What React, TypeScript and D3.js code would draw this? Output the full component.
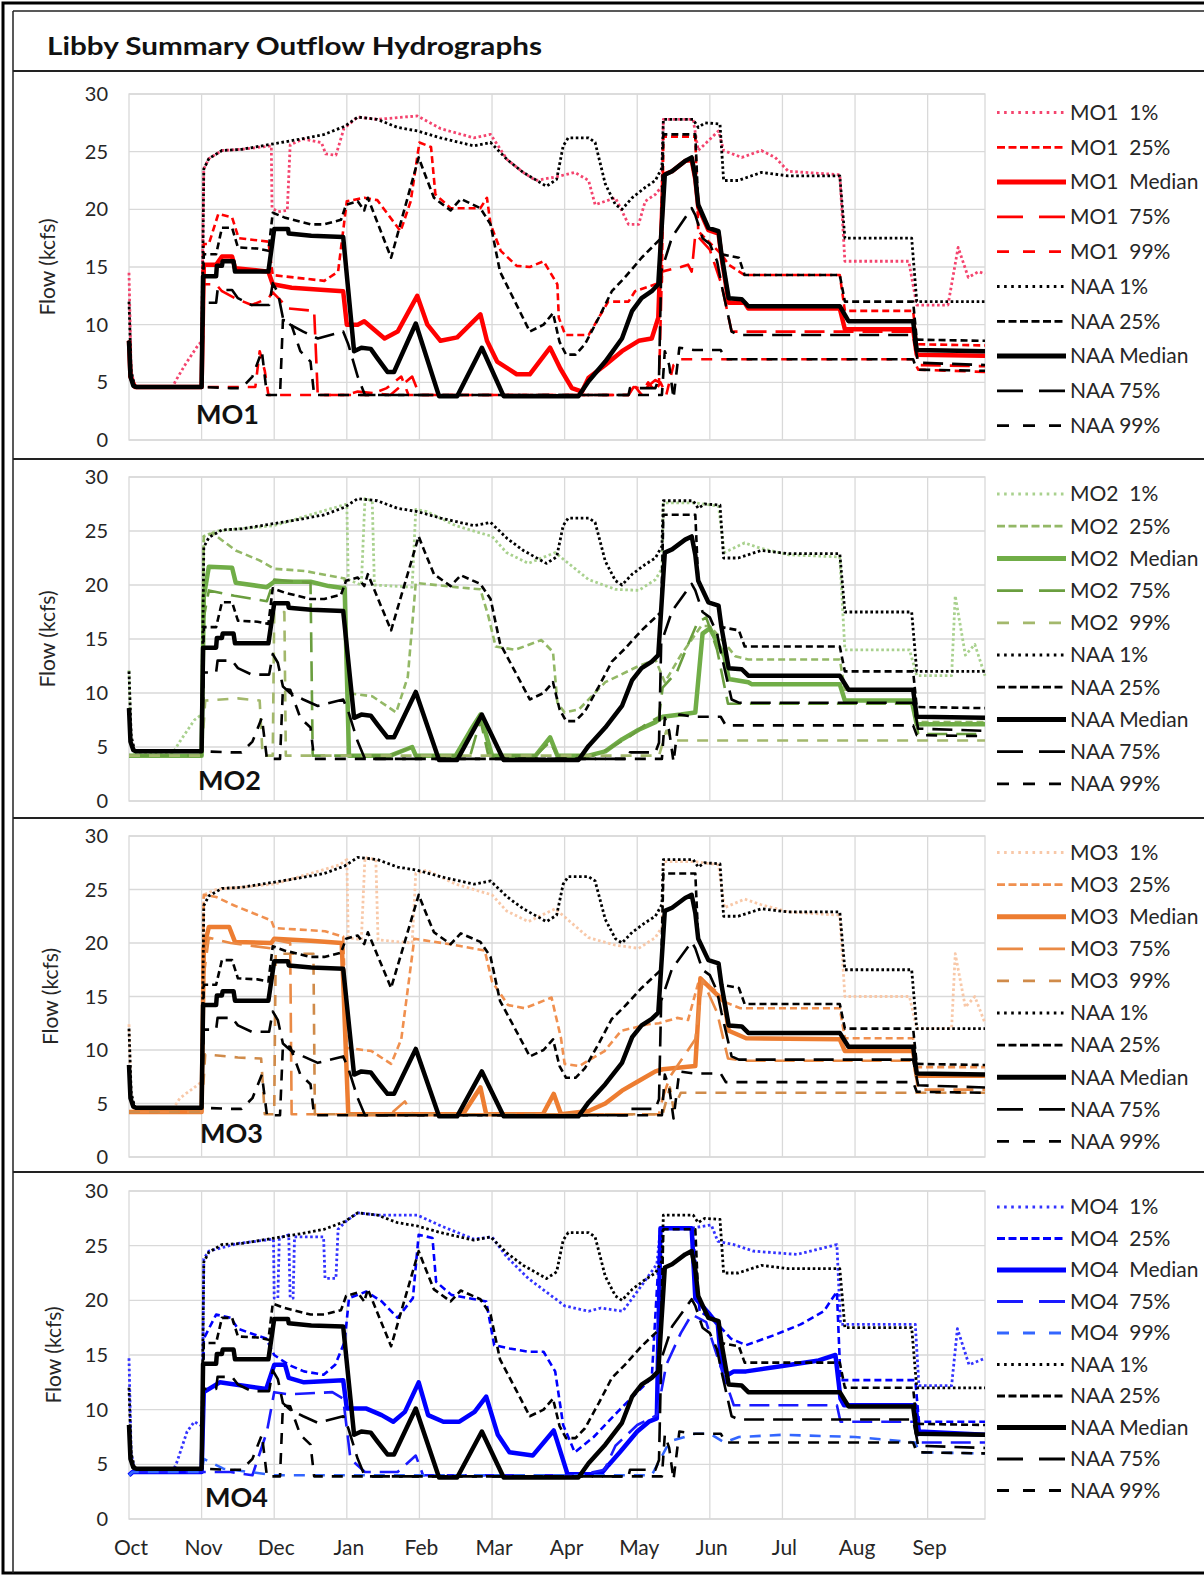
import React from 'react';
import * as d3 from 'd3';

type Pt = [number, number];

// ---------- axis / label data ----------
const MONTHS = ['Oct', 'Nov', 'Dec', 'Jan', 'Feb', 'Mar', 'Apr', 'May', 'Jun', 'Jul', 'Aug', 'Sep'];
const Y_TICKS = [0, 5, 10, 15, 20, 25, 30];
const PCT_KEYS = ['p1', 'p25', 'med', 'p75', 'p99'];
const PCT_LABELS = ['1%', '25%', 'Median', '75%', '99%'];
const ALT_NAMES = ['MO1', 'MO2', 'MO3', 'MO4'];
const TITLE = 'Libby Summary Outflow Hydrographs';

// ---------- No Action Alternative (same in every panel); x = months after Oct 1, y = kcfs ----------
const NAA_1: Pt[] = [[0,12],[0.03,6],[0.08,4.6],[1.0,4.6],[1.03,23.5],[1.1,24.4],[1.28,25.1],[1.55,25.2],[2.01,25.7],[2.37,26.1],[2.69,26.5],[2.97,27.2],[3.15,28.0],[3.42,27.8],[3.7,27.1],[3.97,26.8],[4.29,26.2],[4.75,25.5],[4.98,25.8],[5.21,24.3],[5.43,23.2],[5.75,22.0],[5.89,22.6],[5.98,25.5],[6.05,26.2],[6.33,26.2],[6.42,25.8],[6.56,22.2],[6.7,20.4],[6.79,20.0],[6.93,21.0],[7.11,21.9],[7.25,22.5],[7.34,23.6],[7.36,27.8],[7.77,27.8],[7.84,27.1],[7.93,27.5],[8.14,27.4],[8.19,22.5],[8.39,22.5],[8.71,23.2],[9.08,22.9],[9.79,22.9],[9.86,17.5],[10.78,17.5],[10.85,12.0],[11.79,12.0]];
const NAA_25: Pt[] = [[0,8.6],[0.02,5.5],[0.08,4.6],[1.0,4.6],[1.03,16.1],[1.2,16.1],[1.28,18.4],[1.42,18.4],[1.5,16.7],[1.77,16.6],[1.92,16.4],[1.98,19.7],[2.14,19.3],[2.5,18.7],[2.69,18.7],[2.92,19.1],[2.99,20.4],[3.15,20.7],[3.24,19.9],[3.29,21.0],[3.61,15.8],[3.99,24.5],[4.06,23.3],[4.2,21.0],[4.43,19.9],[4.57,20.9],[4.84,20.1],[4.98,18.7],[5.11,14.6],[5.34,11.7],[5.52,9.4],[5.71,10.0],[5.84,11.0],[5.93,8.5],[6.02,7.4],[6.15,7.4],[6.28,8.3],[6.47,10.6],[6.65,12.9],[6.83,14.1],[7.06,15.8],[7.25,17.0],[7.33,17.5],[7.36,26.5],[7.8,26.5],[7.84,20.4],[7.98,18.4],[8.12,18.1],[8.16,16.1],[8.4,15.8],[8.48,14.3],[9.79,14.3],[9.86,12.0],[10.8,12.0],[10.85,8.7],[11.79,8.6]];
const NAA_MED: Pt[] = [[0,8.6],[0.02,5.5],[0.06,4.7],[0.1,4.6],[1.0,4.6],[1.02,14.2],[1.2,14.2],[1.21,15.1],[1.28,15.1],[1.29,15.5],[1.44,15.5],[1.46,14.6],[1.92,14.6],[2.0,18.3],[2.19,18.3],[2.2,17.9],[2.51,17.7],[2.95,17.6],[3.1,7.7],[3.2,8.0],[3.33,7.9],[3.42,7.1],[3.56,5.9],[3.65,5.9],[3.95,10.1],[4.27,3.8],[4.52,3.8],[4.86,8.0],[5.16,3.8],[6.19,3.8],[6.33,5.1],[6.56,6.8],[6.79,8.8],[6.93,11.2],[7.06,12.3],[7.2,12.9],[7.29,13.5],[7.38,23.0],[7.48,23.3],[7.66,24.2],[7.75,24.5],[7.8,22.8],[7.84,20.4],[7.98,18.4],[8.12,18.1],[8.16,16.1],[8.26,12.3],[8.44,12.2],[8.53,11.6],[9.79,11.6],[9.91,10.3],[10.8,10.3],[10.85,7.8],[11.79,7.7]];
const NAA_75: Pt[] = [[0,8.6],[0.02,5.5],[0.08,4.6],[1.0,4.6],[1.03,11.9],[1.2,11.9],[1.22,13.0],[1.42,13.0],[1.5,12.3],[1.69,11.7],[1.93,11.7],[1.98,13.6],[2.05,12.8],[2.12,10.6],[2.22,10.0],[2.4,9.4],[2.6,8.8],[2.95,9.4],[3.02,8.3],[3.15,5.5],[3.25,3.9],[6.88,3.9],[6.9,4.5],[7.25,4.5],[7.3,5.4],[7.33,14.6],[7.48,17.6],[7.75,20.1],[7.8,19.5],[7.9,17.5],[8.0,17.0],[8.1,15.5],[8.16,13.5],[8.3,9.4],[8.4,9.1],[10.8,9.1],[10.87,6.7],[11.79,6.5]];
const NAA_99: Pt[] = [[0,8.6],[0.02,5.5],[0.08,4.6],[1.0,4.6],[1.4,4.5],[1.55,4.5],[1.7,5.5],[1.83,7.7],[1.9,3.9],[2.08,3.9],[2.12,10.4],[2.22,10.3],[2.36,7.7],[2.5,6.8],[2.55,3.9],[7.34,3.9],[7.38,7.7],[7.44,6.5],[7.5,3.6],[7.58,8.0],[7.78,7.8],[8.15,7.8],[8.22,7.0],[10.8,7.0],[10.85,6.1],[11.79,6.0]];

// ---------- MO1 ----------
const MO1_1: Pt[] = [[0,14.5],[0.03,6],[0.08,4.6],[0.6,4.6],[0.64,5.1],[0.78,6.6],[0.96,8.3],[1.0,8.5],[1.03,23.5],[1.1,24.4],[1.28,25.1],[1.55,25.2],[1.96,25.5],[1.97,20.1],[2.05,19.8],[2.18,19.9],[2.22,25.6],[2.4,26.1],[2.65,25.8],[2.71,24.8],[2.85,24.7],[2.96,27.0],[3.15,28.0],[3.42,27.8],[3.97,28.1],[4.29,27.0],[4.75,26.2],[4.98,26.5],[5.21,24.3],[5.43,23.2],[5.6,22.5],[5.87,22.8],[6.14,23.2],[6.33,22.5],[6.42,20.4],[6.7,21.0],[6.88,18.7],[7.02,18.7],[7.11,20.7],[7.25,21.3],[7.34,22.0],[7.36,27.8],[7.77,27.8],[7.84,25.1],[8.12,26.8],[8.19,25.1],[8.44,24.5],[8.71,25.1],[8.9,24.5],[9.08,23.3],[9.79,23.0],[9.86,15.5],[10.74,15.5],[10.85,11.7],[11.28,11.7],[11.42,16.7],[11.56,14.1],[11.7,14.6],[11.79,14.4]];
const MO1_25: Pt[] = [[0,8.6],[0.02,5.5],[0.08,4.6],[1.0,4.6],[1.03,17.0],[1.1,17.0],[1.23,19.6],[1.42,19.3],[1.51,17.5],[1.92,17.2],[1.98,14.3],[2.69,13.8],[2.88,14.6],[3.0,20.7],[3.24,21.0],[3.42,20.8],[3.74,18.1],[3.88,20.7],[4.0,25.8],[4.16,25.4],[4.22,21.3],[4.43,20.1],[4.84,20.1],[4.93,21.0],[4.98,18.7],[5.12,16.4],[5.34,15.1],[5.52,15.0],[5.71,15.5],[5.9,13.5],[5.92,10.6],[6.01,9.1],[6.33,9.1],[6.6,12.0],[6.88,12.0],[6.97,12.9],[7.25,13.5],[7.34,13.7],[7.36,26.3],[7.8,26.3],[7.84,18.1],[8.16,16.1],[8.26,15.2],[8.48,14.3],[9.79,14.3],[9.86,11.2],[10.8,11.2],[10.85,8.3],[11.79,8.2]];
const MO1_MED: Pt[] = [[0,8.6],[0.02,5.5],[0.08,4.6],[1.0,4.6],[1.03,15.2],[1.2,15.2],[1.28,15.9],[1.42,15.9],[1.46,14.9],[1.92,14.6],[1.98,13.5],[2.24,13.2],[2.69,13.0],[2.95,12.9],[3.0,10.0],[3.15,10.0],[3.24,10.3],[3.52,8.8],[3.7,9.4],[3.97,12.5],[4.11,10.0],[4.29,8.6],[4.52,8.9],[4.84,10.9],[4.93,8.6],[5.07,6.8],[5.34,5.7],[5.52,5.7],[5.8,8.0],[5.94,6.2],[6.1,4.5],[6.24,4.2],[6.33,5.4],[6.56,6.5],[6.79,7.7],[7.02,8.6],[7.2,8.8],[7.29,10.6],[7.36,23.0],[7.48,23.3],[7.66,24.2],[7.75,24.3],[7.8,22.6],[7.84,20.2],[7.98,18.2],[8.12,17.9],[8.16,15.9],[8.26,11.9],[8.48,11.9],[8.53,11.4],[9.79,11.4],[9.86,9.6],[10.8,9.6],[10.85,7.4],[11.79,7.3]];
const MO1_75: Pt[] = [[0,8.6],[0.02,5.5],[0.08,4.6],[1.0,4.6],[1.03,13.5],[1.2,13.5],[1.28,12.9],[1.46,12.3],[1.69,11.7],[1.92,12.3],[1.98,12.8],[2.2,11.4],[2.55,11.2],[2.6,3.9],[3.0,3.9],[3.15,4.2],[3.6,3.9],[3.9,5.5],[4.0,3.9],[6.88,3.9],[6.95,4.6],[7.1,4.4],[7.25,5.2],[7.3,5.0],[7.34,14.6],[7.6,15.0],[7.7,15.2],[7.75,14.6],[7.8,17.8],[7.84,17.6],[8.0,16.5],[8.16,13.5],[8.3,9.4],[10.8,9.4],[10.87,6.5],[11.79,6.4]];
const MO1_99: Pt[] = [[0,8.6],[0.02,5.5],[0.08,4.6],[1.74,4.6],[1.8,7.7],[1.87,6.0],[1.92,3.9],[3.3,3.9],[3.55,4.5],[3.75,5.5],[3.85,3.9],[6.88,3.9],[6.95,4.8],[7.05,4.0],[7.15,5.0],[7.25,4.2],[7.32,5.0],[7.4,3.9],[7.5,6.5],[7.6,7.0],[10.8,7.0],[10.87,6.1],[11.79,5.9]];

// ---------- MO2 ----------
const MO2_1: Pt[] = [[0,12.1],[0.03,5],[0.08,4.4],[0.6,4.4],[0.7,5.5],[0.9,7.5],[1.0,8.0],[1.03,24.5],[1.2,25.0],[2.0,25.5],[2.9,27.3],[3.0,27.5],[3.02,20.5],[3.2,20.0],[3.25,28.0],[3.35,27.8],[3.38,20.0],[3.9,19.8],[3.95,27.0],[4.1,26.8],[4.5,25.5],[5.0,24.5],[5.2,23.0],[5.5,22.0],[5.87,23.0],[6.33,20.5],[6.7,19.6],[7.02,19.5],[7.25,20.5],[7.34,21.5],[7.36,27.6],[7.8,27.6],[8.12,27.3],[8.2,23.0],[8.48,23.9],[8.7,23.4],[9.08,22.8],[9.79,22.6],[9.86,14.0],[10.75,14.0],[10.85,11.6],[11.33,11.6],[11.38,19.0],[11.52,13.5],[11.65,14.5],[11.79,11.6]];
const MO2_25: Pt[] = [[0,4.2],[1.0,4.2],[1.03,24.5],[1.15,24.8],[1.47,23.2],[1.79,22.3],[2.0,21.5],[2.42,21.3],[2.97,20.6],[3.0,10.0],[3.35,9.7],[3.68,8.2],[3.84,11.5],[3.95,20.2],[4.5,19.8],[4.84,19.6],[4.95,17.1],[5.05,14.3],[5.32,14.0],[5.68,14.9],[5.84,13.8],[5.9,9.1],[6.0,8.2],[6.2,8.5],[6.56,11.0],[7.02,12.5],[7.25,13.1],[7.38,11.0],[7.6,13.5],[7.88,16.2],[8.0,16.2],[8.21,14.6],[8.35,13.4],[8.53,13.1],[9.79,13.1],[9.86,10.3],[10.8,10.3],[10.85,7.3],[11.79,7.3]];
const MO2_MED: Pt[] = [[0,4.2],[1.0,4.2],[1.03,18.9],[1.1,21.7],[1.42,21.6],[1.47,20.2],[1.9,19.8],[2.0,20.3],[2.5,20.3],[2.75,19.9],[2.97,19.7],[3.03,4.2],[3.6,4.2],[3.9,5.0],[3.95,4.2],[4.5,4.2],[4.7,6.5],[4.84,8.0],[5.0,4.2],[5.6,4.2],[5.8,5.9],[5.9,4.2],[6.33,4.2],[6.56,4.6],[6.79,5.7],[7.02,6.6],[7.25,7.3],[7.35,7.8],[7.6,8.0],[7.8,8.2],[7.9,15.5],[8.0,16.0],[8.2,13.4],[8.26,11.3],[8.53,11.0],[8.58,10.8],[9.79,10.8],[9.86,9.3],[10.78,9.3],[10.85,7.1],[11.79,7.1]];
const MO2_75: Pt[] = [[0,4.2],[1.0,4.2],[1.03,17.0],[1.1,19.5],[1.45,19.0],[1.9,18.5],[2.0,20.5],[2.5,20.2],[2.53,4.2],[3.6,4.2],[3.9,5.0],[3.95,4.2],[4.7,4.2],[4.84,7.5],[4.95,4.2],[5.6,4.2],[5.8,5.5],[5.9,4.2],[6.4,4.2],[6.6,4.8],[6.9,6.0],[7.1,7.0],[7.3,7.8],[7.35,10.5],[7.55,12.0],[7.7,14.5],[7.83,16.5],[7.95,17.0],[8.1,14.0],[8.25,9.0],[10.8,9.0],[10.87,6.2],[11.79,6.2]];
const MO2_99: Pt[] = [[0,4.2],[1.0,4.2],[1.05,9.3],[1.5,9.5],[1.8,9.3],[1.84,4.2],[1.98,4.2],[2.0,17.5],[2.14,17.5],[2.16,4.2],[7.3,4.2],[7.4,6.5],[7.5,5.6],[11.79,5.6]];

// ---------- MO3 ----------
const MO3_1: Pt[] = [[0,12.4],[0.03,5],[0.08,4.4],[0.6,4.4],[0.7,5.5],[0.9,6.5],[1.0,7.0],[1.03,24.5],[1.2,25.0],[2.0,25.5],[2.9,27.3],[3.0,27.8],[3.02,20.5],[3.2,20.3],[3.25,28.0],[3.4,27.8],[3.43,20.3],[3.9,20.0],[3.95,26.5],[4.1,26.8],[4.5,25.5],[5.0,24.5],[5.2,23.0],[5.5,22.0],[5.87,23.2],[6.33,20.5],[6.7,19.8],[7.02,19.5],[7.25,20.5],[7.34,21.5],[7.36,27.6],[7.8,27.6],[8.12,27.3],[8.2,23.3],[8.48,24.1],[8.7,23.6],[9.08,22.9],[9.79,22.6],[9.86,15.0],[10.75,15.0],[10.85,12.0],[11.33,12.0],[11.38,19.0],[11.52,14.0],[11.65,15.0],[11.79,12.5]];
const MO3_25: Pt[] = [[0,4.2],[1.0,4.2],[1.03,24.5],[1.2,24.3],[1.45,23.5],[1.78,22.6],[1.96,22.1],[2.0,21.4],[2.7,21.1],[2.95,20.6],[3.0,10.2],[3.34,9.9],[3.61,8.7],[3.75,11.0],[3.93,20.4],[4.5,19.8],[4.9,19.3],[5.0,16.4],[5.22,14.2],[5.45,13.9],[5.82,14.9],[5.95,11.1],[6.0,8.7],[6.2,8.5],[6.55,9.9],[6.78,11.8],[7.15,12.4],[7.3,12.5],[7.55,13.0],[7.7,12.8],[7.85,16.5],[8.07,15.6],[8.2,14.5],[8.42,13.9],[9.79,13.9],[9.86,11.1],[10.8,11.1],[10.85,8.4],[11.79,8.4]];
const MO3_MED: Pt[] = [[0,4.2],[1.0,4.2],[1.03,19.5],[1.1,21.5],[1.38,21.5],[1.46,20.1],[1.96,20.0],[2.0,20.4],[2.5,20.2],[2.93,20.0],[3.02,4.0],[4.6,4.0],[4.84,6.5],[4.92,4.0],[5.7,4.0],[5.85,5.9],[5.95,4.0],[6.33,4.3],[6.56,5.0],[6.79,6.2],[7.02,7.1],[7.25,8.0],[7.35,8.2],[7.8,8.5],[7.87,16.7],[8.2,14.5],[8.26,11.8],[8.5,11.1],[9.79,11.0],[9.86,9.9],[10.8,9.9],[10.85,7.6],[11.79,7.6]];
const MO3_75: Pt[] = [[0,4.2],[1.0,4.2],[1.03,17.0],[1.1,20.5],[1.4,20.0],[1.96,19.5],[2.0,20.3],[2.22,20.0],[2.24,4.0],[3.6,4.0],[3.8,5.2],[3.9,4.0],[7.3,4.0],[7.35,5.5],[7.45,7.5],[7.6,9.0],[7.8,11.0],[7.9,16.5],[8.1,13.5],[8.25,9.2],[8.5,9.0],[10.8,9.0],[10.87,6.3],[11.79,6.3]];
const MO3_99: Pt[] = [[0,4.2],[1.0,4.2],[1.05,9.6],[1.5,9.3],[1.82,9.2],[1.87,4.0],[2.0,4.0],[2.02,19.0],[2.54,19.0],[2.56,4.0],[7.35,4.0],[7.45,6.5],[7.5,4.5],[7.6,6.0],[11.79,6.0]];

// ---------- MO4 ----------
const MO4_1: Pt[] = [[0,14.7],[0.03,6],[0.08,4.3],[0.6,4.3],[0.66,5.2],[0.8,8.0],[0.9,8.9],[0.98,8.6],[1.01,8.6],[1.03,23.8],[1.1,24.5],[1.5,25.2],[1.99,25.6],[2.0,20.2],[2.05,20.2],[2.07,25.7],[2.2,26.0],[2.22,20.2],[2.26,20.2],[2.28,25.8],[2.68,25.8],[2.7,22.0],[2.85,22.0],[2.88,26.5],[3.0,27.3],[3.15,28.0],[3.42,27.8],[3.97,27.8],[4.3,26.8],[4.75,25.6],[5.0,25.8],[5.2,24.0],[5.5,22.0],[5.8,20.5],[6.0,19.5],[6.33,19.0],[6.5,19.3],[6.8,19.0],[7.0,20.8],[7.27,23.3],[7.32,26.6],[7.75,26.6],[8.02,26.9],[8.11,25.4],[8.33,25.1],[8.6,24.5],[9.2,24.2],[9.75,25.1],[9.8,17.8],[10.83,17.8],[10.88,12.2],[11.33,12.2],[11.41,17.4],[11.57,14.1],[11.79,14.7]];
const MO4_25: Pt[] = [[0,4.0],[0.05,4.3],[1.0,4.3],[1.03,16.5],[1.2,18.7],[1.4,18.4],[1.5,17.4],[1.89,16.5],[2.0,15.0],[2.2,14.1],[2.41,13.5],[2.68,13.2],[2.84,14.1],[2.97,16.2],[3.03,20.2],[3.27,20.8],[3.48,19.9],[3.7,18.4],[3.91,20.2],[3.99,26.0],[4.18,25.7],[4.23,21.7],[4.44,20.5],[4.92,19.9],[5.03,15.9],[5.24,15.6],[5.5,15.3],[5.71,15.3],[5.87,13.5],[5.98,8.6],[6.14,6.1],[6.4,7.5],[6.73,9.8],[7.0,11.6],[7.2,12.9],[7.32,26.6],[7.75,26.6],[7.78,25.1],[7.86,19.0],[8.07,18.1],[8.29,16.5],[8.5,15.9],[8.88,16.8],[9.25,17.8],[9.57,19.0],[9.75,20.8],[9.8,12.7],[10.83,12.7],[10.88,8.9],[11.79,8.9]];
const MO4_MED: Pt[] = [[0,4.0],[0.05,4.3],[1.0,4.3],[1.03,11.6],[1.25,12.5],[1.46,12.3],[1.89,11.9],[2.0,14.1],[2.15,14.1],[2.2,12.9],[2.41,12.5],[2.95,12.7],[3.0,10.1],[3.27,10.1],[3.48,9.5],[3.64,8.9],[3.8,9.8],[3.99,12.5],[4.12,9.5],[4.33,8.9],[4.55,8.9],[4.76,9.8],[4.92,11.2],[5.08,7.7],[5.24,6.1],[5.56,5.8],[5.85,8.1],[6.04,4.1],[6.5,4.1],[6.6,4.9],[6.76,6.1],[7.0,8.0],[7.16,8.9],[7.27,9.2],[7.32,26.6],[7.75,26.6],[7.8,20.2],[8.0,18.7],[8.11,17.8],[8.16,14.0],[8.25,13.2],[8.33,13.5],[8.5,13.5],[9.0,14.0],[9.5,14.5],[9.73,15.0],[9.8,11.0],[9.85,10.4],[10.83,10.4],[10.88,8.0],[11.79,7.7]];
const MO4_75: Pt[] = [[0,4.0],[0.05,4.3],[1.4,4.3],[1.7,4.0],[1.9,8.0],[2.0,11.6],[2.2,11.4],[2.8,11.6],[2.95,11.0],[3.05,5.5],[3.25,4.3],[3.7,4.3],[3.95,5.8],[4.05,4.0],[6.2,4.0],[6.55,4.5],[6.7,6.7],[7.0,8.6],[7.27,9.5],[7.4,14.1],[7.6,17.0],[7.75,18.7],[7.95,18.0],[8.17,13.5],[8.33,10.4],[9.75,10.4],[9.8,8.9],[10.83,8.9],[10.88,7.0],[11.79,7.0]];
const MO4_99: Pt[] = [[0,4.0],[0.05,4.3],[1.0,4.3],[1.03,5.5],[1.3,4.6],[1.9,4.1],[2.0,4.0],[7.2,4.0],[7.4,6.5],[7.5,7.2],[7.8,7.8],[8.0,7.8],[8.2,7.0],[8.4,7.5],[9.0,7.7],[10.0,7.5],[10.83,7.0],[10.88,6.1],[11.79,6.0]];

const NAA_SERIES = [NAA_1, NAA_25, NAA_MED, NAA_75, NAA_99];
const MO_SERIES = [
  [MO1_1, MO1_25, MO1_MED, MO1_75, MO1_99],
  [MO2_1, MO2_25, MO2_MED, MO2_75, MO2_99],
  [MO3_1, MO3_25, MO3_MED, MO3_75, MO3_99],
  [MO4_1, MO4_25, MO4_MED, MO4_75, MO4_99],
];

// ---------- styles & layout ----------
const MO_COLORS = [
  ['#F4446E', '#FF0000', '#FF0000', '#FF0000', '#FF0000'],
  ['#A9D18E', '#93B866', '#70AD47', '#6A9E3F', '#A3B86C'],
  ['#F8C8A8', '#F0904F', '#ED7D31', '#EA8A45', '#D08B4A'],
  ['#3333FF', '#0000FF', '#0000FF', '#1A1AFF', '#3366FF'],
];
const LINE_STYLE: Record<string, { dash: string | undefined; width: number }> = {
  p1: { dash: '2.6 2.6', width: 2.8 },
  p25: { dash: '7 4', width: 2.6 },
  med: { dash: undefined, width: 4.5 },
  p75: { dash: '20 9', width: 2.6 },
  p99: { dash: '11 9', width: 2.6 },
};
const LEGEND_DASH: Record<string, string | undefined> = {
  p1: '2.6 4.5', p25: '8 3.5', med: undefined, p75: '26 16', p99: '12 14',
};

const W = 1204, H = 1575;
const X0 = 129, X1 = 985;
const PANELS = [
  { top: 94, bottom: 440, legY: 112.5, legStep: 34.8, labX: 196, labY: 424, titleX: 48, sep: 459 },
  { top: 477, bottom: 801, legY: 494, legStep: 32.2, labX: 198, labY: 790, titleX: 48, sep: 818 },
  { top: 836, bottom: 1157, legY: 852.5, legStep: 32.1, labX: 200, labY: 1143, titleX: 51, sep: 1172 },
  { top: 1191, bottom: 1519, legY: 1207, legStep: 31.5, labX: 205, labY: 1507, titleX: 54, sep: null as number | null },
];
const FONT = 'Lato, "Open Sans", "DejaVu Sans", sans-serif';
const GRID = '#d9d9d9';

export default function App() {
  const x = d3.scaleLinear().domain([0, 11.79]).range([X0, X1]);

  return (
    <svg width={W} height={H} style={{ position: 'absolute', left: 0, top: 0, background: '#fff' }}
      fontFamily={FONT}>
      <rect x={0} y={0} width={W} height={H} fill="#fff" />
      {/* frames */}
      <rect x={3} y={3} width={W + 10} height={H - 5} fill="none" stroke="#000" strokeWidth={3} />
      <line x1={13} y1={11} x2={13} y2={H - 2} stroke="#222" strokeWidth={1.5} />
      <line x1={13} y1={11} x2={W} y2={11} stroke="#222" strokeWidth={1.5} />
      <line x1={13} y1={71} x2={W} y2={71} stroke="#222" strokeWidth={2} />
      <text x={47} y={55} fontSize={24} fontWeight={700} fill="#111" textLength={495}
        lengthAdjust="spacingAndGlyphs">{TITLE}</text>

      {PANELS.map((p, pi) => {
        const y = d3.scaleLinear().domain([0, 30]).range([p.bottom, p.top]);
        const line = d3.line<Pt>().x(d => x(d[0])).y(d => y(d[1]));
        const alt = ALT_NAMES[pi];
        const series = [
          ...MO_SERIES[pi].map((data, i) => ({ data, key: PCT_KEYS[i], color: MO_COLORS[pi][i], label: `${alt}  ${PCT_LABELS[i]}` })),
          ...NAA_SERIES.map((data, i) => ({ data, key: PCT_KEYS[i], color: '#000', label: `NAA ${PCT_LABELS[i]}` })),
        ];
        const midY = (p.top + p.bottom) / 2;
        return (
          <g key={pi}>
            {p.sep !== null && <line x1={13} x2={W} y1={p.sep} y2={p.sep} stroke="#222" strokeWidth={2} />}
            {/* grid */}
            {Y_TICKS.map(t => (
              <line key={'h' + t} x1={X0} x2={X1} y1={y(t)} y2={y(t)} stroke={GRID} strokeWidth={1.3} />
            ))}
            {MONTHS.map((m, i) => i > 0 && (
              <line key={'v' + m} x1={x(i)} x2={x(i)} y1={p.top} y2={p.bottom} stroke={GRID} strokeWidth={1.3} />
            ))}
            <rect x={X0} y={p.top} width={X1 - X0} height={p.bottom - p.top} fill="none" stroke={GRID} strokeWidth={1.3} />
            {/* y tick labels */}
            {Y_TICKS.map(t => (
              <text key={'t' + t} x={108} y={y(t)} dy="0.35em" textAnchor="end" fontSize={20} fill="#262626">{t}</text>
            ))}
            <text transform={`translate(${p.titleX},${midY}) rotate(-90)`} textAnchor="middle" dy="0.35em"
              fontSize={21} fill="#262626">Flow (kcfs)</text>
            {/* series */}
            <g fill="none" strokeLinejoin="round">
              {series.map((s, si) => (
                <path key={si} d={line(s.data) || ''} stroke={s.color}
                  strokeWidth={LINE_STYLE[s.key].width} strokeDasharray={LINE_STYLE[s.key].dash} />
              ))}
            </g>
            <text x={p.labX} y={p.labY} fontSize={27} fontWeight={700} fill="#111">{alt}</text>
            {/* legend */}
            {series.map((s, si) => {
              const ly = p.legY + si * p.legStep;
              return (
                <g key={'l' + si}>
                  <line x1={997} x2={1066} y1={ly} y2={ly} stroke={s.color}
                    strokeWidth={s.key === 'med' ? 5 : 2.8} strokeDasharray={LEGEND_DASH[s.key]} />
                  <text x={1070} y={ly} dy="0.35em" fontSize={21} fill="#262626"
                    style={{ whiteSpace: 'pre' }}>{s.label}</text>
                </g>
              );
            })}
          </g>
        );
      })}

      {/* month labels */}
      {MONTHS.map((m, i) => (
        <text key={m} x={x(i) + 2} y={1548} dy="0.35em" textAnchor="middle" fontSize={21} fill="#262626">{m}</text>
      ))}
    </svg>
  );
}
